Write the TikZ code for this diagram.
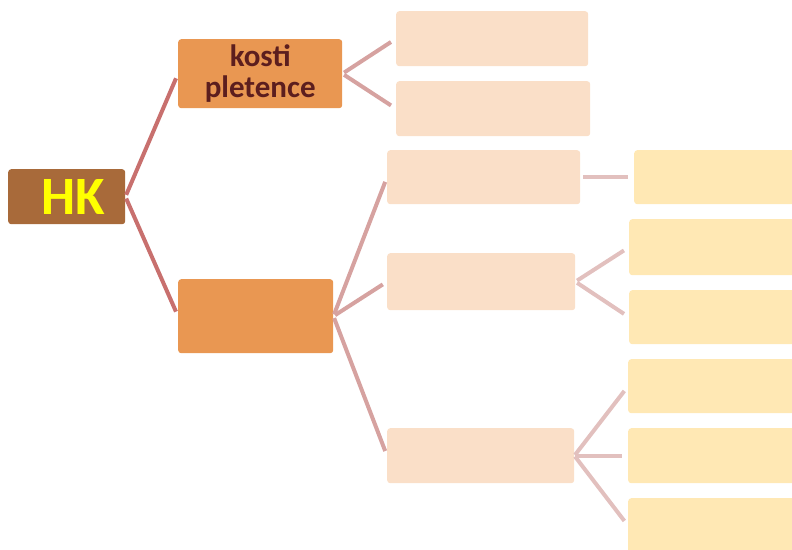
\documentclass[tikz,border=0pt]{standalone}
\usepackage{fontspec}
\setmainfont{Carlito}
\definecolor{hkfill}{RGB}{168,106,58}
\definecolor{hktext}{RGB}{255,255,0}
\definecolor{orangefill}{RGB}{233,151,82}
\definecolor{textbrown}{RGB}{92,30,30}
\definecolor{peach}{RGB}{250,223,200}
\definecolor{cream}{RGB}{255,232,180}
\definecolor{lineone}{RGB}{200,112,110}
\definecolor{linetwo}{RGB}{214,162,160}
\definecolor{linethree}{RGB}{226,192,190}
\begin{document}
\begin{tikzpicture}[x=1pt,y=-1pt,
  box/.style={rounded corners=3pt, inner sep=0pt, anchor=north west},
  hkbox/.style={box, fill=hkfill, text=hktext, font=\bfseries\fontsize{54}{54}\selectfont},
  obox/.style={box, fill=orangefill, text=textbrown, font=\bfseries\fontsize{31}{31}\selectfont, align=center},
  pbox/.style={box, fill=peach},
  ybox/.style={box, fill=cream},
  lone/.style={draw=lineone, line width=4pt, shorten <=2pt, shorten >=5pt},
  ltwo/.style={draw=linetwo, line width=4pt, shorten <=2pt, shorten >=6pt},
  lthree/.style={draw=linethree, line width=4pt, shorten <=2pt, shorten >=6pt}]
\useasboundingbox (0,0) rectangle (792,549);
\clip (0,0) rectangle (792,549);
% nodes
\node[hkbox, minimum width=117pt, minimum height=55pt] (hk) at (8,169) {\hspace*{13pt}HK};
\node[obox, minimum width=164pt, minimum height=69pt] (k1) at (178,39) {kosti\\pletence};
\node[obox, minimum width=155pt, minimum height=74pt] (k2) at (178,279) {};
\node[pbox, minimum width=192pt, minimum height=55pt] (a1) at (396,11) {};
\node[pbox, minimum width=194pt, minimum height=55pt] (a2) at (396,81) {};
\node[pbox, minimum width=193pt, minimum height=54pt] (b1) at (387,150) {};
\node[pbox, minimum width=188pt, minimum height=57pt] (b2) at (387,253) {};
\node[pbox, minimum width=187pt, minimum height=55pt] (b3) at (387,428) {};
\node[ybox, minimum width=200pt, minimum height=54pt] (c1) at (634,150) {};
\node[ybox, minimum width=200pt, minimum height=56pt] (c2) at (629,219) {};
\node[ybox, minimum width=200pt, minimum height=54pt] (c3) at (629,290) {};
\node[ybox, minimum width=200pt, minimum height=54pt] (c4) at (628,359) {};
\node[ybox, minimum width=200pt, minimum height=55pt] (c5) at (628,428) {};
\node[ybox, minimum width=200pt, minimum height=55pt] (c6) at (628,498) {};
% connectors
\draw[lone] (hk.east) -- (k1.west);
\draw[lone] (hk.east) -- (k2.west);
\draw[ltwo] (k1.east) -- (a1.west);
\draw[ltwo] (k1.east) -- (a2.west);
\draw[ltwo, shorten >=5pt] (k2.east) -- (b1.west);
\draw[ltwo, shorten >=5pt] (k2.east) -- (b2.west);
\draw[ltwo, shorten >=5pt] (k2.east) -- (b3.west);
\draw[lthree, shorten <=3pt] (b1.east) -- (c1.west);
\draw[lthree] (b2.east) -- (c2.west);
\draw[lthree] (b2.east) -- (c3.west);
\draw[lthree, shorten <=1pt] (b3.east) -- (c4.west);
\draw[lthree, shorten <=1pt] (b3.east) -- (c5.west);
\draw[lthree, shorten <=1pt] (b3.east) -- (c6.west);
\end{tikzpicture}
\end{document}
